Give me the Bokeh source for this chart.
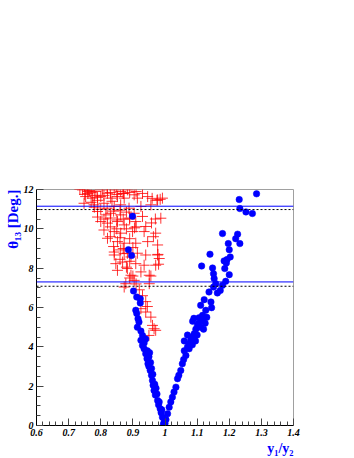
from bokeh.plotting import figure
from bokeh.models import Range1d, FixedTicker, Span, Title
from bokeh.embed import file_html
from bokeh.resources import INLINE

# ---- data ----
blue_x = [0.899, 0.886, 0.896, 0.902, 0.912, 0.923, 0.923, 0.909, 0.912, 0.916,
          0.914, 0.919, 0.925, 0.930, 0.925, 0.930, 0.935, 0.940, 0.944, 0.947,
          0.950, 0.954, 0.958, 0.961, 0.963, 0.966, 0.970, 0.977, 0.980, 0.985,
          0.988, 0.992, 0.997, 0.995, 0.935, 0.945, 0.950, 0.955, 0.958, 0.962,
          0.968, 0.972, 0.975, 0.982, 0.990, 0.940, 0.952,
          1.000, 1.003, 1.008, 1.013, 1.018, 1.023, 1.028, 1.034, 1.039, 1.043,
          1.049, 1.054, 1.058, 1.065, 1.070, 1.075, 1.080, 1.085, 1.091, 1.096,
          1.101, 1.106, 1.111, 1.117, 1.117, 1.122, 1.127, 1.137, 1.143, 1.145,
          1.151, 1.151, 1.148, 1.153, 1.158, 1.163, 1.172, 1.179, 1.189, 1.200,
          1.186, 1.191, 1.184, 1.193, 1.203, 1.200, 1.197, 1.233, 1.220, 1.226,
          1.179, 1.140, 1.114, 1.285, 1.231, 1.233, 1.252, 1.272,
          1.060, 1.075, 1.085, 1.090, 1.100, 1.105, 1.110, 1.095, 1.086, 1.090,
          1.130, 1.125, 1.120, 1.070, 1.060]
blue_y = [10.64, 8.94, 8.64, 6.84, 6.53, 6.45, 6.23, 5.86, 5.70, 5.43,
          5.00, 5.26, 4.80, 4.58, 4.33, 4.07, 3.90, 3.65, 3.40, 3.14,
          3.00, 2.80, 2.55, 2.29, 2.05, 1.78, 1.55, 1.27, 1.05, 0.85,
          0.65, 0.42, 0.17, 0.05, 4.20, 3.80, 3.50, 3.20, 2.90, 2.60,
          2.10, 1.90, 1.60, 1.20, 0.80, 4.40, 3.70,
          0.10, 0.30, 0.60, 0.93, 1.20, 1.44, 1.70, 1.95, 2.38, 2.55,
          2.80, 3.14, 3.35, 3.56, 3.99, 4.15, 4.33, 4.50, 4.67, 4.90,
          5.09, 5.48, 6.11, 5.35, 5.60, 6.40, 5.86, 6.79, 6.28, 5.99,
          7.04, 7.72, 8.01, 7.47, 7.21, 6.74, 6.87, 7.13, 7.33, 7.67,
          7.98, 8.26, 8.37, 8.44, 8.57, 8.94, 9.25, 9.25, 9.50, 9.73,
          9.76, 8.71, 8.11, 11.78, 11.49, 11.03, 10.86, 10.78,
          3.80, 3.90, 4.10, 4.40, 4.60, 5.20, 5.00, 4.30, 5.30, 5.45,
          5.50, 5.20, 4.90, 4.60, 4.30]

red_x = [0.743, 0.764, 0.785, 0.805, 0.821, 0.842, 0.862, 0.883, 0.904, 0.753,
         0.774, 0.800, 0.831, 0.852, 0.873, 0.914, 0.946, 0.977, 0.992, 0.748,
         0.779, 0.810, 0.842, 0.862, 0.888, 0.925, 0.956, 0.790, 0.816, 0.831,
         0.862, 0.904, 0.930, 0.987, 0.800, 0.821, 0.852, 0.873, 0.909, 0.940,
         0.810, 0.842, 0.862, 0.899, 0.935, 0.971, 0.821, 0.852, 0.873, 0.909,
         0.946, 0.977, 0.862, 0.883, 0.914, 0.940, 0.977, 0.842,
         0.842, 0.873, 0.894, 0.982, 0.847, 0.868, 0.909, 0.935, 0.971, 0.852,
         0.883, 0.925, 0.951, 0.894, 0.904, 0.951, 0.878, 0.873, 0.925, 0.940,
         0.956, 0.961, 0.971, 0.950, 0.966,
         0.735, 0.760, 0.780, 0.770, 0.790, 0.760, 0.960, 0.975, 0.985, 0.970,
         0.958, 0.964, 0.978, 0.980, 0.956, 0.820, 0.835, 0.870, 0.890, 0.905,
         0.750, 0.770, 0.790, 0.810, 0.830, 0.850, 0.870, 0.890, 0.910, 0.930,
         0.780, 0.800, 0.820, 0.840, 0.860, 0.880, 0.790, 0.810, 0.830, 0.850,
         0.870, 0.890, 0.910, 0.830, 0.850, 0.880, 0.830, 0.860, 0.890, 0.840,
         0.870, 0.900, 0.860, 0.890, 0.880, 0.900, 0.910, 0.920, 0.890, 0.930,
         0.940, 0.945]
red_y = [11.98, 11.95, 11.90, 11.98, 11.81, 11.98, 11.90, 11.98, 11.73, 11.64,
         11.56, 11.64, 11.56, 11.64, 11.56, 11.56, 11.64, 11.47, 11.56, 11.30,
         11.22, 11.30, 11.14, 11.22, 11.05, 11.14, 11.22, 10.88, 10.71, 10.79,
         10.71, 10.79, 10.63, 10.54, 10.37, 10.29, 10.37, 10.20, 10.37, 10.12,
         9.94, 9.86, 9.78, 9.86, 9.86, 9.78, 9.52, 9.35, 9.27, 9.27,
         9.35, 9.18, 8.93, 8.76, 8.76, 8.67, 8.67, 8.67,
         8.82, 8.74, 8.57, 8.49, 8.23, 8.31, 8.23, 8.15, 8.15, 7.89,
         7.98, 7.81, 7.64, 7.64, 7.38, 7.21, 7.21, 7.04, 5.94, 5.77,
         5.51, 5.09, 4.84, 4.58, 4.92,
         12.00, 11.80, 11.70, 11.35, 11.45, 11.90, 11.55, 11.45, 11.50, 10.50,
         10.30, 9.60, 8.70, 8.20, 7.60, 12.05, 11.40, 11.80, 10.50, 10.05,
         11.75, 11.85, 11.60, 11.70, 11.85, 11.75, 11.80, 11.85, 11.90, 11.80,
         11.10, 11.00, 11.05, 10.90, 10.95, 10.85, 10.60, 10.50, 10.55, 10.45,
         10.50, 10.55, 10.10, 10.10, 10.00, 10.00, 9.60, 9.55, 9.50, 9.10,
         9.00, 9.05, 8.45, 8.35, 8.05, 7.60, 7.20, 6.90, 7.50, 6.60,
         6.30, 6.05]

hline_blue = [11.15, 7.30]
hline_dot = [10.98, 7.08]

x_ticks = [0.6, 0.7, 0.8, 0.9, 1.0, 1.1, 1.2, 1.3, 1.4]
x_tick_labels = ["0.6", "0.7", "0.8", "0.9", "1", "1.1", "1.2", "1.3", "1.4"]
y_ticks = [0, 2, 4, 6, 8, 10, 12]
x_title = "y\u2081/y\u2082"
y_title = "\u03b8\u2081\u2083 [Deg.]"

SERIF = "Liberation Serif"

p = figure(width=354, height=458, output_backend="svg", toolbar_location=None,
           x_range=Range1d(0.6, 1.4), y_range=Range1d(0, 12),
           min_border_left=36, min_border_right=61, min_border_top=189,
           min_border_bottom=33)
p.grid.visible = False
p.outline_line_color = "#a0a0a0"
p.outline_line_width = 1
p.background_fill_color = "white"
p.border_fill_color = "white"

for ax in (p.xaxis[0], p.yaxis[0]):
    ax.axis_line_color = "black"
    ax.axis_line_width = 1
    ax.major_tick_in = 7
    ax.major_tick_out = 0
    ax.minor_tick_in = 4
    ax.minor_tick_out = 0
    ax.major_tick_line_color = "#444444"
    ax.minor_tick_line_color = "#444444"
    ax.major_label_text_font = SERIF
    ax.major_label_text_font_style = "bold italic"
    ax.major_label_text_font_size = "10px"
    ax.major_label_text_color = "black"
    ax.major_label_standoff = 3

# minor ticks
xminor = []
for i in range(len(x_ticks) - 1):
    for k in range(1, 5):
        xminor.append(round(x_ticks[i] + k * 0.02, 3))
yminor = []
for i in range(len(y_ticks) - 1):
    for k in range(1, 4):
        yminor.append(y_ticks[i] + k * 0.5)
p.xaxis[0].ticker = FixedTicker(ticks=x_ticks, minor_ticks=xminor)
p.yaxis[0].ticker = FixedTicker(ticks=y_ticks, minor_ticks=yminor)
p.xaxis[0].major_label_overrides = {t: s for t, s in zip(x_ticks, x_tick_labels)}

for v in hline_blue:
    p.add_layout(Span(location=v, dimension="width", line_color="#0000ff", line_width=1))
for v in hline_dot:
    p.add_layout(Span(location=v, dimension="width", line_color="black",
                      line_width=1, line_dash="2 2"))

p.scatter(red_x, red_y, marker="cross", size=11, line_color="#ff0000",
          line_alpha=0.8, line_width=1)
p.scatter(blue_x, blue_y, marker="circle", size=6.5, fill_color="#0000ff",
          line_color="#0000ff", line_width=0.5)

# axis titles
BLUE = "#0000ff"
p.add_layout(Title(text=y_title, align="right", text_font=SERIF,
                   text_font_style="bold", text_font_size="15px",
                   text_color=BLUE, standoff=0), "left")
p.add_layout(Title(text=x_title, align="right", text_font=SERIF,
                   text_font_style="bold", text_font_size="14px",
                   text_color=BLUE, standoff=0), "below")

open("out.html", "w").write(file_html(p, INLINE))
